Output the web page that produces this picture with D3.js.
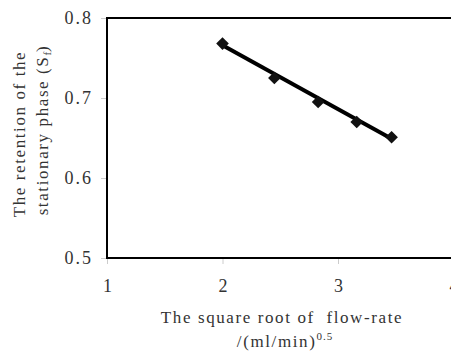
<!DOCTYPE html>
<html><head><meta charset="utf-8">
<script src="https://cdn.jsdelivr.net/npm/d3@7"></script>
<style>body{margin:0;background:#fff}svg{display:block}</style>
</head><body><svg id="c" width="451" height="351"></svg>
<script>
const xValues = [2.0, 2.449, 2.828, 3.162, 3.464];
const yValues = [0.768, 0.725, 0.695, 0.670, 0.651];
const trendX = [2.0, 3.464];
const trendY = [0.766, 0.649];
const xTicks = [1, 2, 3, 4];
const yTicks = [0.5, 0.6, 0.7, 0.8];

const svg = d3.select("#c");
const font = "'Liberation Serif', 'DejaVu Serif', serif";
const x = d3.scaleLinear().domain([1, 4]).range([107, 453.5]);
const y = d3.scaleLinear().domain([0.5, 0.8]).range([258, 18]);

const gx = svg.append("g").attr("transform", "translate(0,258)")
  .call(d3.axisBottom(x).tickValues(xTicks).tickSize(6).tickFormat(d3.format("d")));
gx.select(".domain").remove();
gx.selectAll("line").attr("stroke", "#ccc");
gx.selectAll("text").attr("font-family", font).attr("font-size", 18).attr("fill", "#333").attr("y", 0).attr("dy", 34);

const gy = svg.append("g").attr("transform", "translate(107,0)")
  .call(d3.axisLeft(y).tickValues(yTicks).tickSize(6).tickFormat(d3.format(".1f")));
gy.select(".domain").remove();
gy.selectAll("line").attr("stroke", "#ccc");
gy.selectAll("text").attr("font-family", font).attr("font-size", 18).attr("fill", "#333")
  .attr("letter-spacing", 2).attr("x", -14).attr("dy", "0.3em");

svg.append("path").attr("d", `M${x(4)},${y(0.8)}H${x(1)}V${y(0.5)}H${x(4)}`)
  .attr("fill", "none").attr("stroke", "#000").attr("stroke-width", 2);

svg.append("line").attr("x1", x(trendX[0])).attr("y1", y(trendY[0]))
  .attr("x2", x(trendX[1])).attr("y2", y(trendY[1]))
  .attr("stroke", "#000").attr("stroke-width", 4);

svg.selectAll("path.pt").data(xValues).enter().append("path").attr("class", "pt")
  .attr("d", d3.symbol(d3.symbolSquare, 80))
  .attr("transform", (d, i) => `translate(${x(d)},${y(yValues[i])}) rotate(45)`)
  .attr("fill", "#111");

const tx = svg.append("text").attr("font-family", font).attr("font-size", 17).attr("fill", "#333")
  .attr("letter-spacing", 1.6).attr("text-anchor", "middle").style("white-space", "pre");
tx.append("tspan").attr("x", 282).attr("y", 323).text("The square root of  flow-rate");
const t2 = tx.append("tspan").attr("x", 285).attr("y", 347);
t2.append("tspan").text("/(ml/min)");
t2.append("tspan").attr("font-size", 11).attr("letter-spacing", 1).attr("dy", -7).text("0.5");

const ty = svg.append("text").attr("font-family", font).attr("font-size", 17).attr("fill", "#333")
  .attr("letter-spacing", 1.6).attr("text-anchor", "middle").attr("transform", "translate(0,134) rotate(-90)");
ty.append("tspan").attr("x", 0).attr("y", 25).text("The retention of the");
const l2 = ty.append("tspan").attr("x", 4).attr("y", 48);
l2.append("tspan").text("stationary phase (S");
l2.append("tspan").attr("font-size", 11).attr("letter-spacing", 0).attr("dy", 3).text("f");
l2.append("tspan").attr("dy", -3).text(")");
</script></body></html>
